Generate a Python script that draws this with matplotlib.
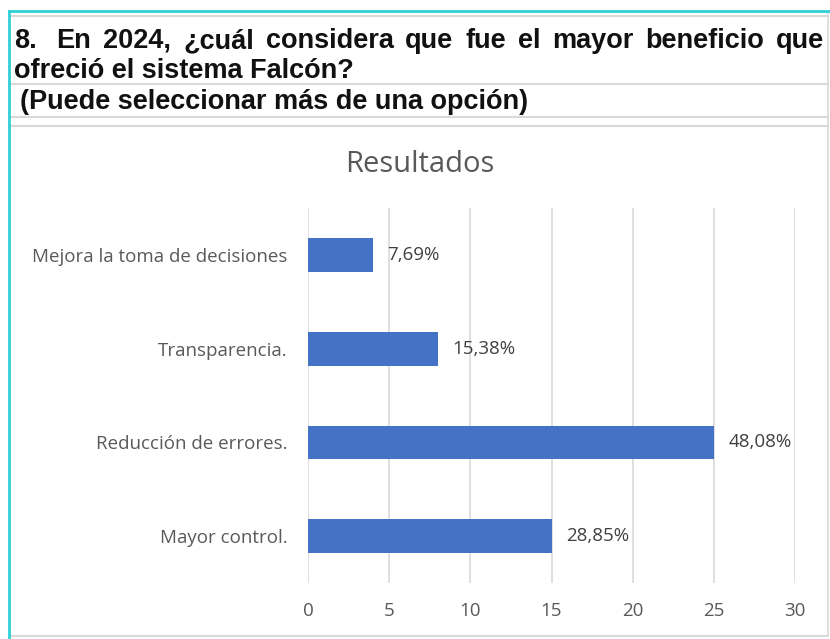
import matplotlib.pyplot as plt
from matplotlib.lines import Line2D

categorias = ['Mayor control.', 'Reducción de errores.', 'Transparencia.', 'Mejora la toma de decisiones']
respuestas = [15, 25, 8, 4]
etiquetas = ['28,85%', '48,08%', '15,38%', '7,69%']
ticks_x = [0, 5, 10, 15, 20, 25, 30]

W, H = 830, 639
fig = plt.figure(figsize=(W / 100, H / 100), dpi=100)

def fx(px):
    return px / W

def fy(py):
    return 1 - py / H

# marco de la tabla
gris = '#d9d9d9'
for y in [16, 84, 117, 126, 636]:
    fig.add_artist(Line2D([fx(9), fx(828)], [fy(y), fy(y)], color=gris, lw=1.5))
fig.add_artist(Line2D([fx(828), fx(828)], [fy(11), fy(636)], color=gris, lw=1.2))
fig.add_artist(Line2D([fx(9), fx(830)], [fy(11), fy(11)], color='#2fd0d6', lw=2))
fig.add_artist(Line2D([fx(9), fx(9)], [fy(11), fy(639)], color='#2fd0d6', lw=2))

# encabezado con la primera linea justificada
fuente = dict(family='Liberation Sans', weight='bold', fontsize=19.5, color='#111111')
palabras = '8. En 2024, ¿cuál considera que fue el mayor beneficio que'.split(' ')
fig.canvas.draw()
r = fig.canvas.get_renderer()
objs = []
anchos = []
for p in palabras:
    t = fig.text(0, fy(41), p, va='center', ha='left', **fuente)
    bb = t.get_window_extent(r)
    objs.append(t)
    anchos.append(bb.width)
anchos[0] += 8  # doble espacio tras "8."
x0, x1 = 14, 824
hueco = (x1 - x0 - sum(anchos)) / (len(palabras) - 1)
x = x0
for t, w in zip(objs, anchos):
    t.set_x(fx(x))
    x += w + hueco
fig.text(fx(14), fy(71), 'ofreció el sistema Falcón?', va='center', ha='left', **fuente)
fig.text(fx(20), fy(102), '(Puede seleccionar más de una opción)', va='center', ha='left', **fuente)

# grafico
letra = 'Open Sans'
ax = fig.add_axes([fx(308), fy(583), fx(795) - fx(308), fy(208) - fy(583)])
pos = range(len(categorias))
ax.barh(pos, respuestas, height=0.36, color='#4472C4', zorder=3)
for i, (v, e) in enumerate(zip(respuestas, etiquetas)):
    ax.text(v + 0.9, i, e, va='center', ha='left', fontsize=13.5, color='#404040', family=letra)
ax.set_xlim(0, 30)
ax.set_ylim(-0.5, 3.5)
ax.set_xticks(ticks_x)
ax.set_yticks(list(pos))
ax.set_yticklabels(categorias)
ax.grid(axis='x', color=gris, lw=1.2, zorder=0)
ax.tick_params(length=0, labelsize=13.5, labelcolor='#595959')
ax.tick_params(axis='x', pad=14)
ax.tick_params(axis='y', pad=15)
for lbl in ax.get_xticklabels() + ax.get_yticklabels():
    lbl.set_family(letra)
for s in ax.spines.values():
    s.set_visible(False)

fig.text(fx(420), fy(165), 'Resultados', ha='center', va='center', fontsize=21,
         color='#595959', family=letra)

fig.savefig('out.png', dpi=100)
